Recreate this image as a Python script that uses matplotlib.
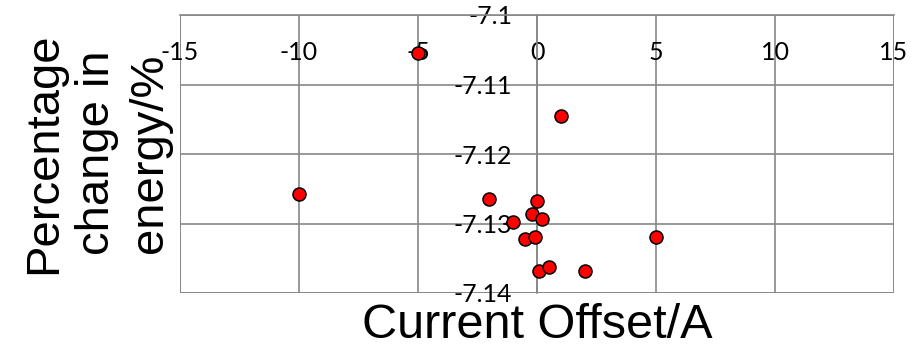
import matplotlib
matplotlib.use("Agg")
import matplotlib.pyplot as plt

plt.rcParams["axes.unicode_minus"] = False

# current offset (A) vs percentage change in energy (%)
offset = [-10.0, -5.0, -2.0, -0.99, -0.52, -0.22, -0.09, 0.0, 0.08, 0.22, 0.5, 0.99, 2.0, 5.0]
energy_change = [-7.1257, -7.1054, -7.1265, -7.1298, -7.1323, -7.1287, -7.1319,
                 -7.1268, -7.1368, -7.1293, -7.1363, -7.1145, -7.1368, -7.1320]

x_ticks = [-15, -10, -5, 0, 5, 10, 15]
y_ticks = [-7.14, -7.13, -7.12, -7.11, -7.1]
y_tick_labels = ["-7.14", "-7.13", "-7.12", "-7.11", "-7.1"]

GRID = "#878787"
TICK_FONT = ["Lato", "DejaVu Sans"]
TITLE_FONT = ["Liberation Sans", "DejaVu Sans"]

fig = plt.figure(figsize=(9.13, 3.51), dpi=100)
ax = fig.add_axes([180 / 913, 1 - 293 / 351, (894 - 180) / 913, (293 - 15) / 351])

ax.scatter(offset, energy_change, s=88, c="#ff0000", edgecolors="black",
           linewidths=1.1, zorder=3, clip_on=False)

ax.set_xlim(-15, 15)
ax.set_ylim(-7.14, -7.1)
ax.set_xticks(x_ticks)
ax.set_yticks(y_ticks)
ax.set_yticklabels(y_tick_labels)

# axes cross at x=0 and y=-7.1 (Excel style)
ax.spines["left"].set_position(("data", 0))
ax.spines["bottom"].set_position(("data", -7.1))
ax.spines["right"].set_visible(False)
ax.spines["top"].set_visible(False)
for sp in ("left", "bottom"):
    ax.spines[sp].set_color(GRID)
    ax.spines[sp].set_linewidth(1.2)

ax.grid(True, color=GRID, linewidth=1.2)
ax.set_axisbelow(True)
ax.tick_params(axis="both", length=0, labelsize=18, colors="black")
ax.tick_params(axis="x", pad=19)
ax.tick_params(axis="y", pad=18)
for lab in ax.get_xticklabels() + ax.get_yticklabels():
    lab.set_family(TICK_FONT)

# outer frame lines of the plot area
ax.axvline(-15, color=GRID, linewidth=1.2, zorder=0.5)
ax.axvline(15, color=GRID, linewidth=1.2, zorder=0.5)
ax.axhline(-7.14, color=GRID, linewidth=1.2, zorder=0.5)

fig.text(537 / 913, 1 - 326 / 351, "Current Offset/A", ha="center", va="center",
         fontsize=35, family=TITLE_FONT)
fig.text(97 / 913, 1 - 153 / 351, "Percentage\nchange in\nenergy/%", ha="center",
         va="center", rotation=90, fontsize=34, family=TITLE_FONT, linespacing=1.25)

plt.savefig("out.png", dpi=100)
plt.close()
